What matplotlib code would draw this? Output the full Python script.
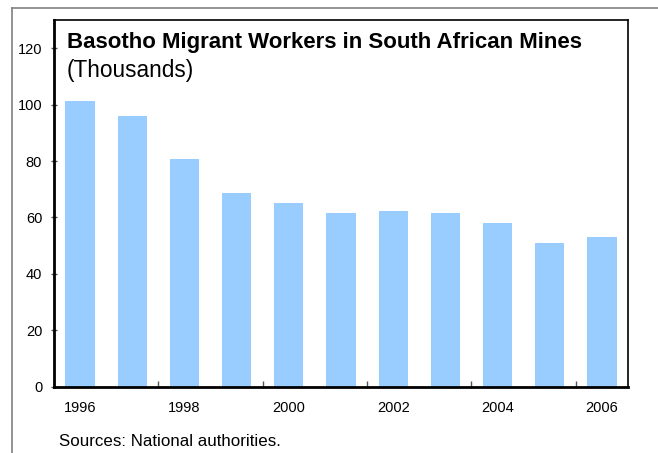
import matplotlib
matplotlib.use("Agg")
import matplotlib.pyplot as plt
from matplotlib.lines import Line2D

years = [1996, 1997, 1998, 1999, 2000, 2001, 2002, 2003, 2004, 2005, 2006]
workers = [101.4, 96.1, 80.8, 68.7, 65.1, 61.6, 62.3, 61.6, 58.0, 50.9, 53.1]
yticks = [0, 20, 40, 60, 80, 100, 120]
xlabel_years = [1996, 1998, 2000, 2002, 2004, 2006]

plt.rcParams['font.family'] = ['Liberation Sans', 'DejaVu Sans']

W, H = 658, 453
fig = plt.figure(figsize=(W / 100, H / 100), dpi=100)
ax = fig.add_axes([54 / W, 1 - 386.7 / H, (628 - 54) / W, (386.7 - 20) / H])

x = list(range(len(years)))
ax.bar(x, workers, width=0.56, color='#99CCFF', zorder=2)
ax.set_xlim(-0.5, len(years) - 0.5)
ax.set_ylim(0, 130)

ax.set_yticks(yticks)
ax.set_yticklabels([str(v) for v in yticks], fontsize=10.5)
ax.tick_params(axis='y', direction='inout', length=5, width=1, color='#555555', pad=6)

major_pos = [years.index(y) for y in xlabel_years]
ax.set_xticks(major_pos)
ax.set_xticklabels([str(y) for y in xlabel_years], fontsize=10.5)
ax.tick_params(axis='x', which='major', length=0, pad=10)
ax.set_xticks([1.5, 3.5, 5.5, 7.5, 9.5], minor=True)
ax.tick_params(axis='x', which='minor', direction='in', length=4, width=1, color='#555555')

for s in ['left', 'bottom']:
    ax.spines[s].set_linewidth(2)
    ax.spines[s].set_color('black')
for s in ['top', 'right']:
    ax.spines[s].set_linewidth(1.2)
    ax.spines[s].set_color('black')

fig.text(67 / W, 1 - 48 / H, 'Basotho Migrant Workers in South African Mines',
         fontsize=16, fontweight='bold', ha='left', va='baseline')
fig.text(67 / W, 1 - 77 / H, '(Thousands)', fontsize=16.3, ha='left', va='baseline')
fig.text(59 / W, 1 - 446 / H, 'Sources: National authorities.', fontsize=12.2,
         ha='left', va='baseline')

# outer frame lines
fig.add_artist(Line2D([12 / W, 1], [1 - 8 / H, 1 - 8 / H], transform=fig.transFigure,
                      color='#808080', lw=1.2))
fig.add_artist(Line2D([12 / W, 12 / W], [1 - 8 / H, 0], transform=fig.transFigure,
                      color='#808080', lw=1.2))

fig.savefig('out.png', dpi=100)
